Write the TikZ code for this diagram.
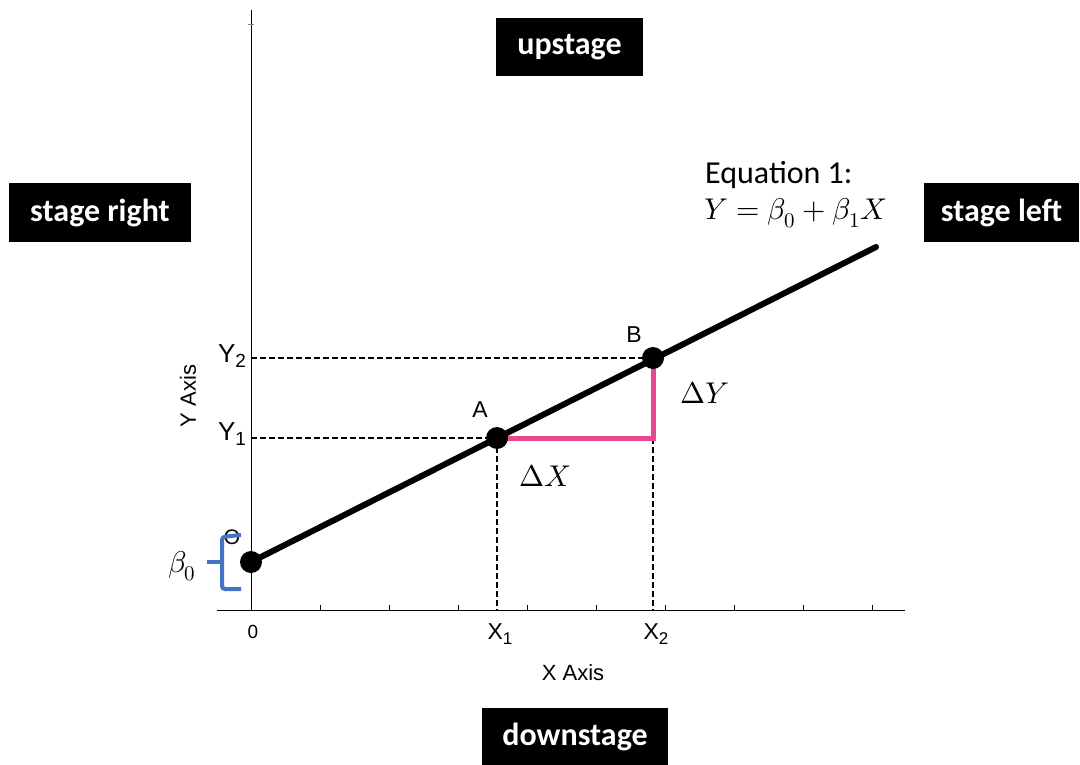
\documentclass[tikz,border=0pt]{standalone}
\usepackage{fontspec}
\usepackage{unicode-math}
\setmainfont{Carlito}
\setmathfont{Latin Modern Math}
\newfontfamily\arial{Liberation Sans}
\definecolor{pinkline}{RGB}{232,70,143}
\definecolor{braceblue}{RGB}{68,114,196}
\tikzset{
  stagebox/.style={fill=black, text=white, inner sep=0pt, font=\fontsize{32}{36}\selectfont\bfseries},
  dot/.style={circle, fill=black, inner sep=0pt, minimum size=22pt},
  axis/.style={line width=1pt, black},
  guide/.style={line width=1.1pt, dash pattern=on 6pt off 3pt},
  lbl/.style={inner sep=0pt, font=\arial\fontsize{23}{27}\selectfont},
  ylbl/.style={inner sep=0pt, font=\arial\fontsize{26}{30}\selectfont},
  mathlbl/.style={inner sep=0pt, font=\fontsize{30}{34}\selectfont},
}
\begin{document}
\begin{tikzpicture}[x=1pt,y=-1pt]
\useasboundingbox (0,0) rectangle (1080,765);
% stage boxes
\node[stagebox, minimum width=147pt, minimum height=58pt] (up) at (569.5,47) {upstage};
\node[stagebox, minimum width=182pt, minimum height=59pt] (sr) at (100,212.5) {stage right};
\node[stagebox, minimum width=155pt, minimum height=59pt] (sl) at (1001.5,212.5) {stage left};
\node[stagebox, minimum width=186pt, minimum height=59pt] (down) at (575,737) {downstage};
% axes
\coordinate (ytop) at (251,10);
\coordinate (orig) at (251,610);
\coordinate (xleft) at (217,610);
\coordinate (xright) at (905,610);
\draw[axis] (ytop) -- (orig);
\draw[line width=1pt, gray] (248,25) -- (254,25);
\draw[axis] (xleft) -- (xright);
\foreach \t in {320,389,458,527,596,665,734,803,872}
  \draw[line width=0.9pt] (\t,610) -- (\t,605);
% points
\coordinate (Oc) at (251,562);
\coordinate (Ac) at (497,438);
\coordinate (Bc) at (653,358);
\coordinate (Cc) at (653,438);
\coordinate (lineEnd) at (876,247);
\coordinate (Y2) at (251,358);
\coordinate (Y1) at (251,438);
\coordinate (X1) at (497,610);
\coordinate (X2) at (653,610);
% guides
\draw[guide] (Y2) -- (Bc);
\draw[guide] (Y1) -- (Ac);
\draw[guide] (Ac) -- (X1);
\draw[guide] (Cc) -- (X2);
% origin label and brace
\node[lbl, font=\arial\fontsize{21}{24}\selectfont] (olbl) at (232,537) {O};
\draw[braceblue, line width=4pt, rounded corners=3pt] (241,535) -- (222,537) -- (222,589) -- (241,589);
\draw[braceblue, line width=4pt] (207,562) -- (222,562);
\node[mathlbl] (b0) at (182,566) {$\beta_0$};
% pink
\draw[pinkline, line width=5pt] (Ac) -- (Cc) -- (Bc);
% line
\draw[line width=6pt, line cap=round] (Oc) -- (lineEnd);
\node[dot] (O) at (Oc) {};
\node[dot] (A) at (Ac) {};
\node[dot] (B) at (Bc) {};
% labels
\node[ylbl] (y2l) at (232,356) {Y\raisebox{-0.35ex}{\fontsize{19}{22}\selectfont 2}};
\node[ylbl] (y1l) at (232,434) {Y\raisebox{-0.35ex}{\fontsize{19}{22}\selectfont 1}};
\node[lbl] (al) at (480,410) {A};
\node[lbl] (bl) at (634,335) {B};
\node[lbl] (x1l) at (500,634) {X\raisebox{-0.35ex}{\fontsize{17}{20}\selectfont 1}};
\node[lbl] (x2l) at (656,634) {X\raisebox{-0.35ex}{\fontsize{17}{20}\selectfont 2}};
\node[lbl, font=\arial\fontsize{19}{22}\selectfont] (zero) at (253,632) {0};
\node[lbl, font=\arial\fontsize{22}{26}\selectfont] (xax) at (573,673) {X Axis};
\node[lbl, font=\arial\fontsize{22}{26}\selectfont, rotate=90] (yax) at (188,396) {Y Axis};
\node[mathlbl] (dy) at (705,393) {$\Delta Y$};
\node[mathlbl] (dx) at (545,476) {$\Delta X$};
\node[inner sep=0pt, font=\fontsize{32}{36}\selectfont, anchor=west] (eq1) at (705,175) {Equation 1:};
\node[mathlbl, anchor=west] (eq2) at (704,213) {$Y=\beta_0+\beta_1X$};
\end{tikzpicture}
\end{document}
